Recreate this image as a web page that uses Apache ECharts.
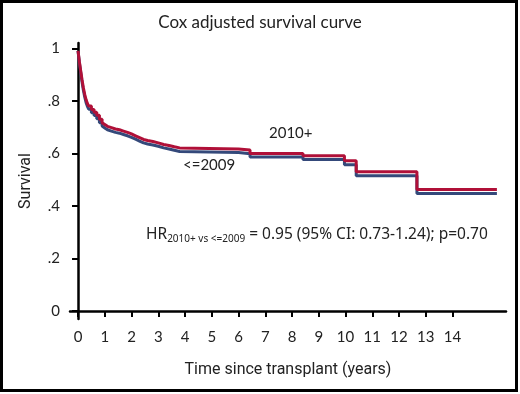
<!DOCTYPE html>
<html><head><meta charset="utf-8">
<script src="https://cdn.jsdelivr.net/npm/echarts@6/dist/echarts.min.js"></script>
<style>html,body{margin:0;padding:0;background:#fff}#c{width:520px;height:394px}</style>
</head><body><div id="c"></div>
<script>
var times    = [0, 0.05, 0.1, 0.15, 0.2, 0.25, 0.3, 0.35, 0.4, 0.5, 0.6, 0.7, 0.8, 0.9, 0.95, 1.0, 1.1, 1.25, 1.4, 1.55, 1.7, 1.85, 2.0, 2.15, 2.3, 2.45, 2.6, 2.8, 3.0, 3.2, 3.4, 3.6, 3.8, 6.0, 6.43, 8.41, 9.96, 10.4, 12.67, 15.66];
var surv2010 = [0.99, 0.95, 0.915, 0.88, 0.85, 0.825, 0.805, 0.79, 0.78, 0.767, 0.757, 0.745, 0.73, 0.717, 0.71, 0.703, 0.698, 0.693, 0.69, 0.685, 0.68, 0.674, 0.667, 0.66, 0.653, 0.649, 0.645, 0.64, 0.634, 0.63, 0.625, 0.621, 0.617, 0.613, 0.60, 0.591, 0.572, 0.53, 0.463, 0.463];
var surv2009 = [0.99, 0.945, 0.908, 0.872, 0.84, 0.815, 0.794, 0.779, 0.768, 0.755, 0.744, 0.732, 0.717, 0.704, 0.697, 0.69, 0.685, 0.68, 0.677, 0.672, 0.667, 0.661, 0.654, 0.647, 0.64, 0.636, 0.632, 0.627, 0.621, 0.617, 0.612, 0.607, 0.603, 0.599, 0.586, 0.577, 0.557, 0.515, 0.447, 0.447];
var xTicks = [0,1,2,3,4,5,6,7,8,9,10,11,12,13,14];
var yTicks = [0, 0.2, 0.4, 0.6, 0.8, 1];
var yTickLabels = ['0', '.2', '.4', '.6', '.8', '1'];

function pairs(t, v) { return t.map(function (x, i) { return [x, v[i]]; }); }

var chart = echarts.init(document.getElementById('c'));
var font = 'Lato, "Noto Sans", sans-serif';
var nfont = '"Noto Sans", sans-serif';
var cfont = 'Roboto, sans-serif';
chart.setOption({
  animation: false,
  title: {
    text: 'Cox adjusted survival curve', left: 255, top: 9, textAlign: 'center',
    textStyle: { fontFamily: font, fontSize: 17, fontWeight: 'normal', color: '#222' }
  },
  grid: { left: 70, right: 14, top: 43, bottom: 75 },
  xAxis: {
    type: 'value', min: -0.3, max: 16,
    axisLine: { show: true, lineStyle: { color: '#000', width: 2.5 } },
    axisTick: { show: true, customValues: xTicks, length: 6, lineStyle: { color: '#000', width: 2 } },
    axisLabel: { customValues: xTicks, margin: 11, fontFamily: font, fontSize: 15, color: '#222' },
    splitLine: { show: false },
    name: 'Time since transplant (years)', nameLocation: 'middle', nameGap: 43,
    nameTextStyle: { fontFamily: cfont, fontSize: 16, color: '#222' }
  },
  yAxis: {
    type: 'value', min: -0.03, max: 1.02,
    axisLine: { show: true, lineStyle: { color: '#000', width: 2.5 } },
    axisTick: { show: true, customValues: yTicks, length: 6, lineStyle: { color: '#000', width: 2 } },
    axisLabel: {
      customValues: yTicks, margin: 10, fontFamily: font, fontSize: 15, color: '#222',
      formatter: function (v) { var i = yTicks.findIndex(function (t) { return Math.abs(t - v) < 1e-6; }); return i >= 0 ? yTickLabels[i] : ''; }
    },
    splitLine: { show: false },
    name: 'Survival', nameLocation: 'middle', nameGap: 36,
    nameTextStyle: { fontFamily: cfont, fontSize: 16, color: '#222' }
  },
  series: [
    { name: '<=2009', type: 'line', step: 'end', showSymbol: false, data: pairs(times, surv2009),
      lineStyle: { color: '#34497a', width: 3 }, z: 2 },
    { name: '2010+', type: 'line', step: 'end', showSymbol: false, data: pairs(times, surv2010),
      lineStyle: { color: '#b01038', width: 3 }, z: 3 }
  ],
  graphic: [
    { type: 'rect', shape: { x: 1.5, y: 1.5, width: 515, height: 389 }, style: { fill: 'none', stroke: '#000', lineWidth: 3 } },
    { type: 'text', left: 269, top: 126, style: { text: '2010+', font: '15px ' + font, fill: '#222' } },
    { type: 'text', left: 183, top: 158, style: { text: '<=2009', font: '15px ' + font, fill: '#222' } },
    { type: 'text', left: 146, top: 227, style: {
      text: '{a|HR}{s|2010+ vs <=2009}{a| = 0.95 (95% CI: 0.73-1.24); p=0.70}',
      rich: {
        a: { fontFamily: nfont, fontSize: 15.5, fill: '#222', color: '#222' },
        s: { fontFamily: nfont, fontSize: 10, fill: '#222', color: '#222', padding: [9, 0, 0, 0] }
      }
    } }
  ]
});
</script></body></html>
